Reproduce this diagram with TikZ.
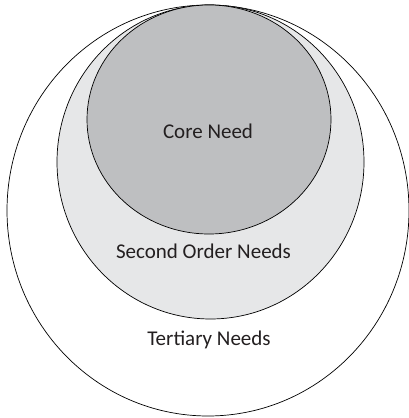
\documentclass[tikz,border=0pt]{standalone}
\usepackage{fontspec}
\setmainfont{Carlito}
\usetikzlibrary{shapes.geometric}
\definecolor{coregray}{RGB}{190,191,193}
\definecolor{secondgray}{RGB}{230,231,232}
\definecolor{labelink}{RGB}{35,31,32}
\begin{document}
\begin{tikzpicture}[
  x=1pt, y=1pt,
  ring/.style={draw=black, ellipse, line width=0.7pt, inner sep=0pt},
  lab/.style={font=\fontsize{21}{25}\selectfont, text=labelink}
]
\useasboundingbox (0,0) rectangle (409,418);
% rings, outside in
\node[ring, fill=white, minimum width=402pt, minimum height=411pt] (tertiary) at (208,207.5) {};
\node[ring, fill=secondgray, minimum width=307pt, minimum height=314pt] (second) at (210.5,256) {};
\node[ring, fill=coregray, minimum width=244pt, minimum height=229pt] (core) at (209,298.5) {};
% labels
\node[lab] (corelab) at (208,287) {Core Need};
\node[lab] (secondlab) at (203.5,167) {Second Order Needs};
\node[lab] (tertiarylab) at (209,78.5) {Tertiary Needs};
\end{tikzpicture}
\end{document}
